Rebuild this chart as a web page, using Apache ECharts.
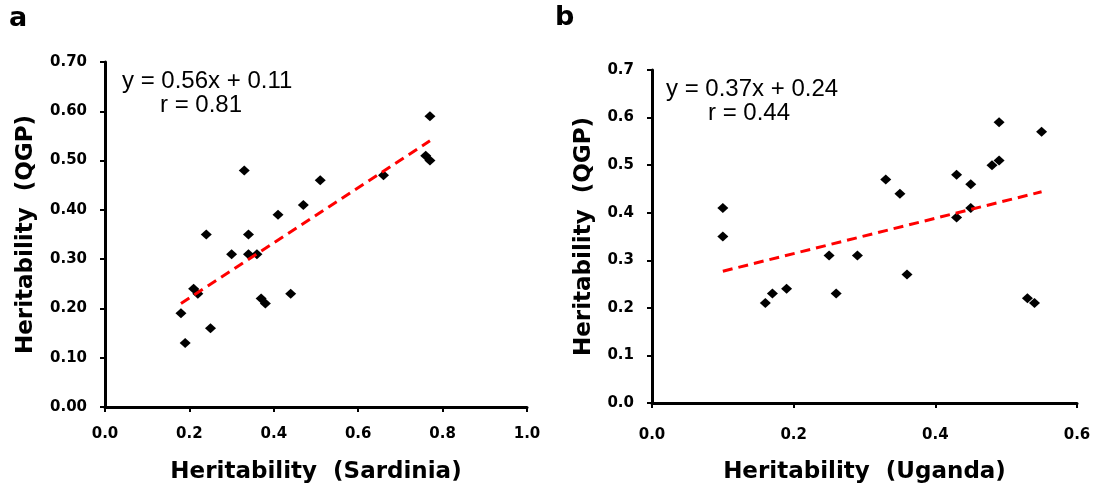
<!DOCTYPE html>
<html>
<head>
<meta charset="utf-8">
<script src="https://cdn.jsdelivr.net/npm/echarts@6/dist/echarts.min.js"></script>
<style>
html,body{margin:0;padding:0;background:#fff;}
#chart{width:1101px;height:489px;}
</style>
</head>
<body>
<div id="chart"></div>
<script>
// Panel a: Sardinia vs QGP heritability
const sardiniaX   = [0.77, 0.76, 0.77, 0.66, 0.51, 0.47, 0.41, 0.33, 0.34, 0.24, 0.30, 0.34, 0.36, 0.21, 0.22, 0.37, 0.38, 0.44, 0.18, 0.25, 0.19];
const sardiniaQGP = [0.59, 0.51, 0.50, 0.47, 0.46, 0.41, 0.39, 0.48, 0.35, 0.35, 0.31, 0.31, 0.31, 0.24, 0.23, 0.22, 0.21, 0.23, 0.19, 0.16, 0.13];
const sardiniaFitX = [0.18, 0.77];
const sardiniaFitY = [0.21, 0.54];

// Panel b: Uganda vs QGP heritability
const ugandaX   = [0.10, 0.10, 0.16, 0.17, 0.19, 0.25, 0.26, 0.29, 0.33, 0.35, 0.36, 0.43, 0.43, 0.45, 0.45, 0.48, 0.49, 0.49, 0.55, 0.53, 0.54];
const ugandaQGP = [0.41, 0.35, 0.21, 0.23, 0.24, 0.31, 0.23, 0.31, 0.47, 0.44, 0.27, 0.48, 0.39, 0.46, 0.41, 0.50, 0.51, 0.59, 0.57, 0.22, 0.21];
const ugandaFitX = [0.10, 0.55];
const ugandaFitY = [0.277, 0.444];

const panelLabels = ['a', 'b'];
const equations = [['y = 0.56x + 0.11', 'r = 0.81'], ['y = 0.37x + 0.24', 'r = 0.44']];
const xNames = ['Heritability  (Sardinia)', 'Heritability  (Uganda)'];
const yName = 'Heritability  (QGP)';

const zip = (a, b) => a.map((v, i) => [v, b[i]]);

const tickFont = {fontFamily: 'DejaVu Sans', fontWeight: 'bold', fontSize: 15, color: '#000'};
const nameFont = {fontFamily: 'DejaVu Sans', fontWeight: 'bold', fontSize: 23, color: '#000'};
const axisLine = {show: true, onZero: false, lineStyle: {color: '#000', width: 3}};
const axisTick = {show: true, inside: false, length: 5, lineStyle: {color: '#000', width: 2}};

function xAxis(gridIndex, max, name, labelMargin, nameGap) {
  return {
    type: 'value', gridIndex, min: 0, max, interval: 0.2,
    name, nameLocation: 'middle', nameGap, nameTextStyle: nameFont,
    axisLine, axisTick, splitLine: {show: false},
    axisLabel: Object.assign({margin: labelMargin, formatter: v => v.toFixed(1)}, tickFont)
  };
}
function yAxis(gridIndex, decimals, nameGap) {
  return {
    type: 'value', gridIndex, min: 0, max: 0.7, interval: 0.1,
    name: yName, nameLocation: 'middle', nameGap, nameRotate: 90, nameTextStyle: nameFont,
    axisLine, axisTick, splitLine: {show: false},
    axisLabel: Object.assign({margin: 18, formatter: v => v.toFixed(decimals)}, tickFont)
  };
}

const eqFont = '24px "Liberation Sans", Arial, sans-serif';
const labelFont = 'bold 27px "DejaVu Sans", sans-serif';
const markStyle = {color: '#000', opacity: 1};

const option = {
  animation: false,
  backgroundColor: '#fff',
  grid: [
    {left: 105, top: 62, width: 422, height: 346},
    {left: 652, top: 70, width: 425, height: 333}
  ],
  xAxis: [xAxis(0, 1.0, xNames[0], 20, 54), xAxis(1, 0.6, xNames[1], 25, 58)],
  yAxis: [yAxis(0, 2, 67), yAxis(1, 1, 56)],
  series: [
    {type: 'scatter', xAxisIndex: 0, yAxisIndex: 0, data: zip(sardiniaX, sardiniaQGP),
     symbol: 'diamond', symbolSize: [11, 10], itemStyle: markStyle, z: 3},
    {type: 'line', xAxisIndex: 0, yAxisIndex: 0, data: zip(sardiniaFitX, sardiniaFitY),
     showSymbol: false, symbol: 'none', lineStyle: {color: '#ff0000', width: 3, type: [10, 6]}, z: 4},
    {type: 'scatter', xAxisIndex: 1, yAxisIndex: 1, data: zip(ugandaX, ugandaQGP),
     symbol: 'diamond', symbolSize: [11, 10], itemStyle: markStyle, z: 3},
    {type: 'line', xAxisIndex: 1, yAxisIndex: 1, data: zip(ugandaFitX, ugandaFitY),
     showSymbol: false, symbol: 'none', lineStyle: {color: '#ff0000', width: 3, type: [10, 6]}, z: 4}
  ],
  graphic: [
    {type: 'text', left: 9, top: 5, style: {text: panelLabels[0], font: labelFont, fill: '#000'}},
    {type: 'text', left: 555, top: 4, style: {text: panelLabels[1], font: labelFont, fill: '#000'}},
    {type: 'text', x: 122, y: 81, style: {text: equations[0][0], font: eqFont, fill: '#000', verticalAlign: 'middle'}},
    {type: 'text', x: 160, y: 105, style: {text: equations[0][1], font: eqFont, fill: '#000', verticalAlign: 'middle'}},
    {type: 'text', x: 666, y: 89, style: {text: equations[1][0], font: eqFont, fill: '#000', verticalAlign: 'middle'}},
    {type: 'text', x: 708, y: 113, style: {text: equations[1][1], font: eqFont, fill: '#000', verticalAlign: 'middle'}}
  ]
};

const chart = echarts.init(document.getElementById('chart'), null, {renderer: 'canvas'});
chart.setOption(option);
</script>
</body>
</html>
